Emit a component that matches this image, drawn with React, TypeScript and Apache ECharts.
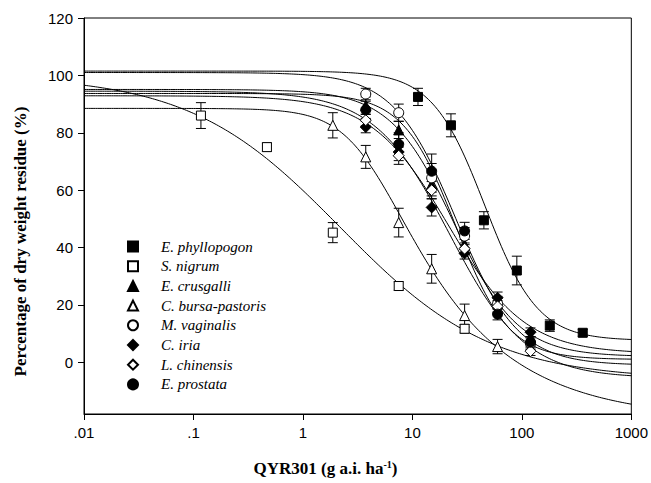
import React, { useEffect, useRef } from "react";
import * as echarts from "echarts";

// ---- Data ----
const speciesNames = [
  "E. phyllopogon",
  "S. nigrum",
  "E. crusgalli",
  "C. bursa-pastoris",
  "M. vaginalis",
  "C. iria",
  "L. chinensis",
  "E. prostata",
];

// doses (g a.i. ha-1)
const dosePhyllopogon = [11.25, 22.5, 45, 90, 180, 360];
const doseNigrum = [0.117, 0.469, 1.875, 7.5, 30];
const doseBursa = [1.875, 3.75, 7.5, 15, 30, 60];
const doseStd = [3.75, 7.5, 15, 30, 60, 120];

// observed percentages
const valPhyllopogon = [92.5, 82.6, 49.5, 32, 12.8, 10.3];
const valNigrum = [86, 75, 45.2, 26.6, 11.7];
const valCrusgalli = [89.5, 81, 62, 41, 21, 8.8];
const valBursa = [82.6, 71.6, 48.7, 32.6, 16.3, 5.5];
const valVaginalis = [93.5, 87, 64.3, 44, 20.5, 6.5];
const valIria = [82, 73.3, 54, 38, 22.5, 10.5];
const valChinensis = [84.4, 72, 60, 39.6, 19.5, 3.9];
const valProstata = [88, 76, 66.6, 45.8, 16.8, 7];

// standard errors
const errPhyllopogon = [3, 4, 3, 5, 2, 1.2];
const errNigrum = [4.5, 1.5, 3.5, 1.5, 1.5];
const errCrusgalli = [3, 3, 4, 3, 2, 2];
const errBursa = [4.4, 4, 5, 5, 4, 2.5];
const errVaginalis = [2, 3, 5, 3, 2, 2];
const errIria = [2, 3, 3, 2, 2, 1.5];
const errChinensis = [2, 3, 3, 2, 2, 1.5];
const errProstata = [3, 4, 6, 3, 2, 2];

// fitted dose-response parameters: upper d, lower c, ED50 e, slope b, asymmetry g
const fitD = [101.5, 100, 95.1, 88.5, 101, 92.9, 94.5, 93.7];
const fitC = [7.6, -6, 2, -20, -1, 3, -5.5, 1];
const fitE = [46, 2.2, 24, 4.11, 25, 21.2, 22, 25];
const fitB = [1.8, 0.63, 1.49, 1.88, 1.53, 1.23, 1.25, 1.8];
const fitG = [1, 1, 1, 0.29, 1, 1, 1, 1];

const xTicks = [0.01, 0.1, 1, 10, 100, 1000];
const xTickLabels = [".01", ".1", "1", "10", "100", "1000"];
const yTicks = [0, 20, 40, 60, 80, 100, 120];

const doses = [dosePhyllopogon, doseNigrum, doseStd, doseBursa, doseStd, doseStd, doseStd, doseStd];
const vals = [valPhyllopogon, valNigrum, valCrusgalli, valBursa, valVaginalis, valIria, valChinensis, valProstata];
const errs = [errPhyllopogon, errNigrum, errCrusgalli, errBursa, errVaginalis, errIria, errChinensis, errProstata];

const symbols = ["rect", "rect", "triangle", "triangle", "circle", "diamond", "diamond", "circle"];
const filled = [true, false, true, false, false, true, false, true];
const symSizes = [9, 9, 10, 10, 10, 11, 11, 10];

function curve(i: number): number[][] {
  const pts: number[][] = [];
  const n = 240;
  for (let k = 0; k <= n; k++) {
    const lx = -2 + (5 * k) / n;
    const x = Math.pow(10, lx);
    const r = Math.pow(x / fitE[i], fitB[i]);
    const y = fitC[i] + (fitD[i] - fitC[i]) / Math.pow(1 + r, fitG[i]);
    pts.push([x, y]);
  }
  return pts;
}

export default function App() {
  const ref = useRef<HTMLDivElement>(null);
  useEffect(() => {
    if (!ref.current) return;
    const chart = echarts.init(ref.current, null, { renderer: "svg" });
    const series: any[] = [];
    // fitted curves
    speciesNames.forEach((name, i) => {
      series.push({
        type: "line",
        name: "fit " + name,
        data: curve(i),
        showSymbol: false,
        symbol: "none",
        lineStyle: { color: "#000", width: 1 },
        z: 1,
        silent: true,
      });
    });
    // error bars
    speciesNames.forEach((name, i) => {
      series.push({
        type: "custom",
        name: "err " + name,
        data: doses[i].map((d, k) => [d, vals[i][k], errs[i][k]]),
        encode: { x: 0, y: 1 },
        z: 2,
        silent: true,
        renderItem: (params: any, api: any) => {
          const x = api.value(0);
          const y = api.value(1);
          const e = api.value(2);
          const top = api.coord([x, y + e]);
          const bot = api.coord([x, y - e]);
          const hw = 5;
          const st = { stroke: "#000", lineWidth: 1 };
          return {
            type: "group",
            children: [
              { type: "line", shape: { x1: top[0], y1: top[1], x2: bot[0], y2: bot[1] }, style: st },
              { type: "line", shape: { x1: top[0] - hw, y1: top[1], x2: top[0] + hw, y2: top[1] }, style: st },
              { type: "line", shape: { x1: bot[0] - hw, y1: bot[1], x2: bot[0] + hw, y2: bot[1] }, style: st },
            ],
          };
        },
      });
    });
    // markers
    speciesNames.forEach((name, i) => {
      series.push({
        type: "scatter",
        name,
        data: doses[i].map((d, k) => [d, vals[i][k]]),
        symbol: symbols[i],
        symbolSize: symSizes[i],
        itemStyle: {
          color: filled[i] ? "#000" : "#fff",
          borderColor: "#000",
          borderWidth: 1,
          opacity: 1,
        },
        z: 3,
      });
    });

    chart.setOption({
      animation: false,
      backgroundColor: "#fff",
      grid: {
        left: 84,
        right: 17,
        top: 18,
        bottom: 69,
        show: true,
        borderColor: "#000",
        borderWidth: 1,
        backgroundColor: "transparent",
      },
      xAxis: {
        type: "log",
        logBase: 10,
        min: 0.01,
        max: 1000,
        splitLine: { show: false },
        axisLine: { onZero: false, lineStyle: { color: "#000", width: 1 } },
        axisTick: { show: true, inside: false, length: 6, lineStyle: { color: "#000" } },
        minorTick: { show: false },
        axisLabel: {
          color: "#000",
          fontFamily: "Liberation Sans, Arial, sans-serif",
          fontSize: 15,
          margin: 11,
          formatter: (v: number) => {
            const idx = xTicks.findIndex((t) => Math.abs(Math.log10(t) - Math.log10(v)) < 1e-6);
            return idx >= 0 ? xTickLabels[idx] : "";
          },
        },
      },
      yAxis: {
        type: "value",
        min: -18,
        max: 120,
        splitLine: { show: false },
        axisLine: { show: true, onZero: false, lineStyle: { color: "#000", width: 1 } },
        axisTick: { show: true, length: 6, lineStyle: { color: "#000" }, customValues: yTicks },
        axisLabel: {
          color: "#000",
          fontFamily: "Liberation Sans, Arial, sans-serif",
          fontSize: 15,
          margin: 11,
          customValues: yTicks,
        },
      },
      legend: {
        data: speciesNames,
        orient: "vertical",
        left: 122,
        top: 234,
        itemWidth: 10,
        itemHeight: 10,
        itemGap: 4.7,
        selectedMode: false,
        formatter: "{t|{name}}",
        itemStyle: { opacity: 1 },
        textStyle: {
          color: "#000",
          fontFamily: "Liberation Serif, Times New Roman, serif",
          fontStyle: "italic",
          fontSize: 15,
          rich: {
            t: {
              color: "#000",
              fontFamily: "Liberation Serif, Times New Roman, serif",
              fontStyle: "italic",
              fontSize: 15,
              padding: [0, 0, 0, 18],
            },
          },
        },
      },
      graphic: [
        {
          type: "text",
          left: 12,
          top: "middle",
          rotation: Math.PI / 2,
          x: 0,
          style: {
            text: "Percentage of dry weight residue (%)",
            fontFamily: "Liberation Serif, Times New Roman, serif",
            fontWeight: "bold",
            fontSize: 17,
            fill: "#000",
          },
        },
        {
          type: "text",
          left: "center",
          top: 459,
          style: {
            text: "{a|QYR301 (g a.i. ha}{s|-1}{a|)}",
            rich: {
              a: {
                fontFamily: "Liberation Serif, Times New Roman, serif",
                fontWeight: "bold",
                fontSize: 17,
                fill: "#000",
              },
              s: {
                fontFamily: "Liberation Serif, Times New Roman, serif",
                fontWeight: "bold",
                fontSize: 10,
                fill: "#000",
                verticalAlign: "top",
                padding: [0, 0, 8, 0],
              },
            },
          },
        },
      ],
      series,
    });
    return () => chart.dispose();
  }, []);
  return <div ref={ref} style={{ width: 651, height: 483, position: "absolute", left: 0, top: 0 }} />;
}
